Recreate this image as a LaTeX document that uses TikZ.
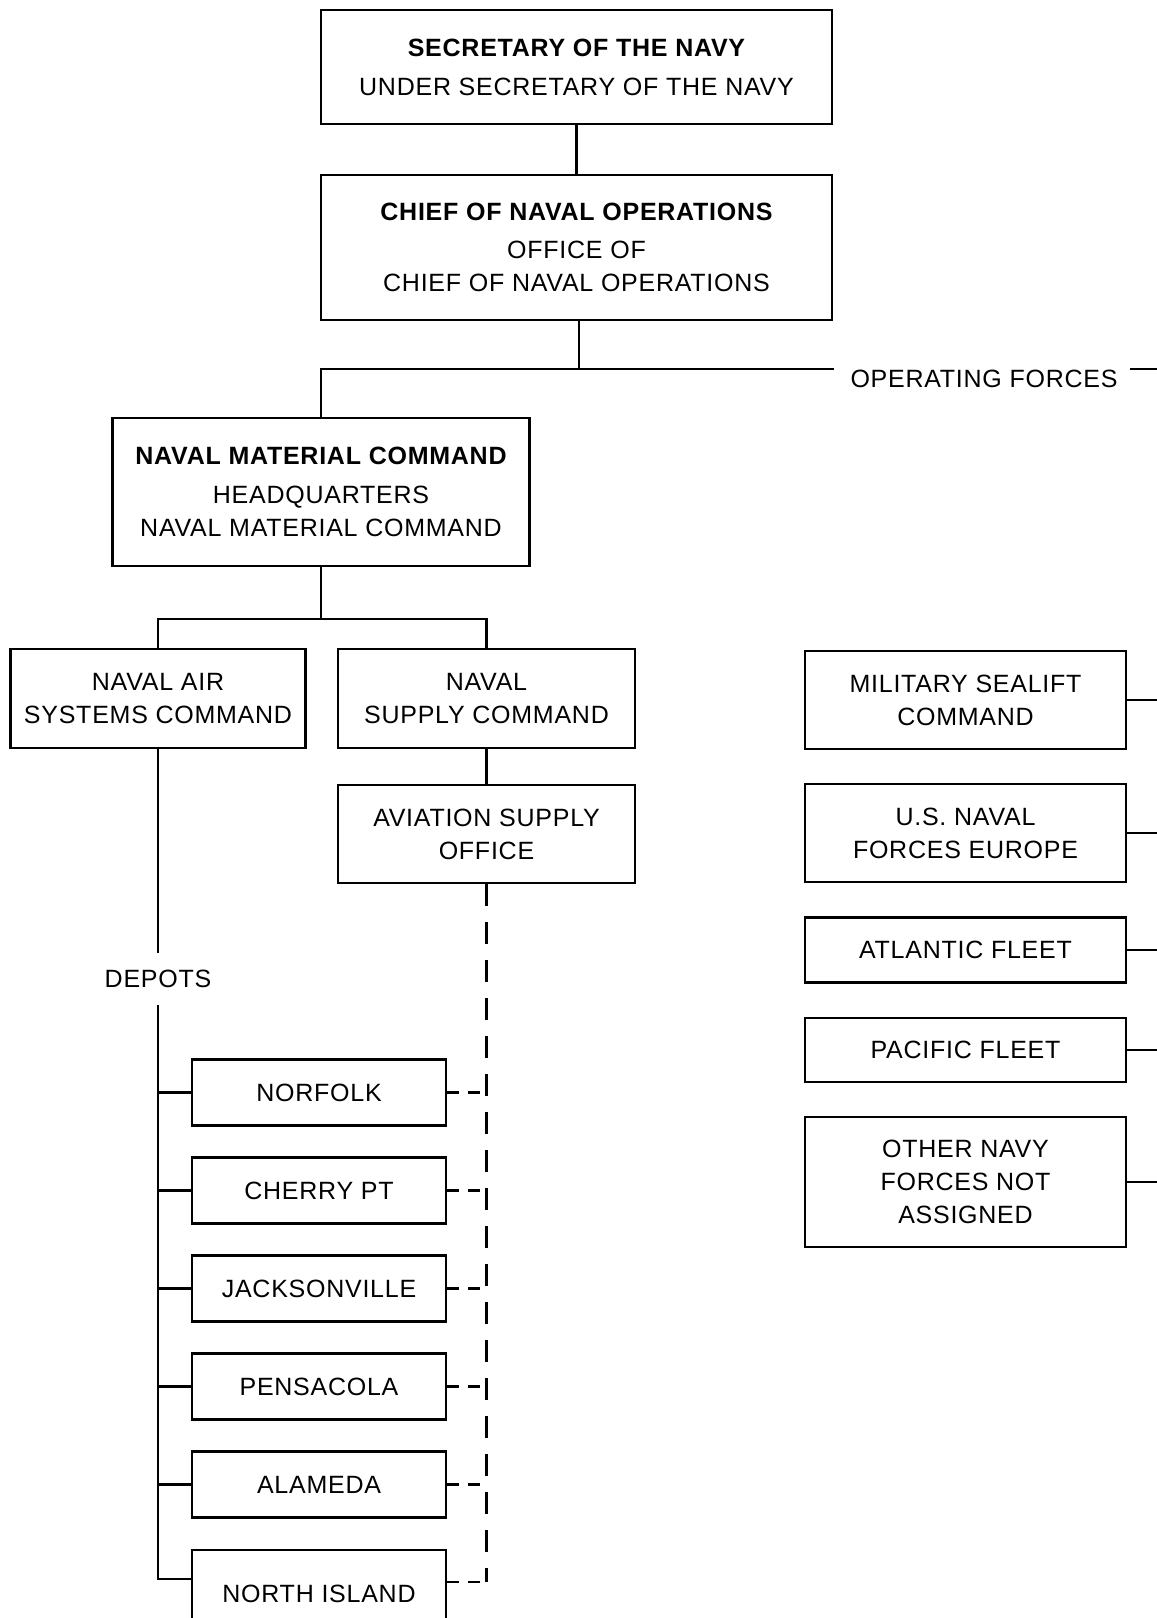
\documentclass[tikz,border=0pt]{standalone}
\usepackage{fontspec}
\setmainfont{Liberation Sans}[LetterSpace=3]
\usetikzlibrary{positioning}

\begin{document}
\begin{tikzpicture}[x=1pt,y=-1pt,line width=2.2pt,
   label/.style={inner sep=0pt,font=\fontsize{25}{33}\selectfont},
   box/.style={draw,label,align=center,line width=2.2pt},
   depot/.style={box,minimum width=254pt,minimum height=66pt,on grid},
   force/.style={box,minimum width=321pt},
   dashline/.style={dash pattern=on 22pt off 16pt},
   dashstub/.style={dash pattern=on 12pt off 9pt}]
   \useasboundingbox (0,0) rectangle (1157,1618);
   \node[box, minimum width=511pt, minimum height=114pt] (secnav) at (576.5,67)
      {{\bfseries SECRETARY OF THE NAVY}\\[6pt]UNDER SECRETARY OF THE NAVY};
   \node[box, minimum width=511pt, minimum height=145pt] (cno) at (576.5,247.5)
      {{\bfseries CHIEF OF NAVAL OPERATIONS}\\[5pt]OFFICE OF\\CHIEF OF NAVAL OPERATIONS};
   \node[box, minimum width=417pt, minimum height=148pt] (nmc) at (321,492)
      {{\bfseries NAVAL MATERIAL COMMAND}\\[6pt]HEADQUARTERS\\NAVAL MATERIAL COMMAND};
   \node[box, minimum width=295pt, minimum height=99pt] (navair) at (158,698.5) {NAVAL AIR\\SYSTEMS COMMAND};
   \node[box, minimum width=297pt, minimum height=99pt] (navsup) at (486.5,698.5) {NAVAL\\SUPPLY COMMAND};
   \node[box, minimum width=297pt, minimum height=98pt] (aso) [below=35pt of navsup] {AVIATION SUPPLY\\OFFICE};
   \node[label] (opforces) at (984,379) {OPERATING FORCES};
   \node[label, inner sep=16pt] (depots) at (158,979) {DEPOTS};
   \node[depot] (norfolk) at (319,1092.5) {NORFOLK};
   \node[depot] (cherrypt) [below=98pt of norfolk] {CHERRY PT};
   \node[depot] (jacksonville) [below=98pt of cherrypt] {JACKSONVILLE};
   \node[depot] (pensacola) [below=98pt of jacksonville] {PENSACOLA};
   \node[depot] (alameda) [below=98pt of pensacola] {ALAMEDA};
   \node[depot, minimum height=88pt] (northisland) at (319,1594) {NORTH ISLAND};
   \node[force, minimum height=98pt] (msc) at (965.5,700) {MILITARY SEALIFT\\COMMAND};
   \node[force, minimum height=98pt] (usnfe) [below=33pt of msc] {U.S. NAVAL\\FORCES EUROPE};
   \node[force, minimum height=65pt] (atlantic) [below=33pt of usnfe] {ATLANTIC FLEET};
   \node[force, minimum height=64pt] (pacific) [below=33pt of atlantic] {PACIFIC FLEET};
   \node[force, minimum height=130pt] (othernavy) [below=33pt of pacific] {OTHER NAVY\\FORCES NOT\\ASSIGNED};
   \coordinate (opsplit) at (579,369);
   \coordinate (opsleft) at (834,369);
   \coordinate (opsright) at (1130,369);
   \coordinate (pageedge) at (1157,369);
   \coordinate (matsplit) at (321,619);
   \coordinate (nislanddash) at ([yshift=12pt]northisland.east);

   \draw (secnav) -- (cno);
   \draw (cno.south -| opsplit) -- (opsplit);
   \draw (nmc.north) -- (nmc.north |- opsplit) -- (opsleft);
   \draw (opsright) -- (pageedge);
   \draw (nmc.south) -- (matsplit);
   \draw (navair.north) -- (navair.north |- matsplit) -- (navsup.north |- matsplit) -- (navsup.north);
   \draw (navsup) -- (aso);
   \draw (navair.south) -- (depots.north);
   \draw (depots.south) |- ([yshift=15pt]northisland.west);
   \draw[dashline] (aso.south) -- (aso.south |- nislanddash);
   \draw[dashstub] (nislanddash) -- (aso.south |- nislanddash);
   \foreach \d in {norfolk,cherrypt,jacksonville,pensacola,alameda} {
      \draw (depots.south |- \d.west) -- (\d.west);
      \draw[dashstub] (\d.east) -- (aso.south |- \d.east);
   }
   \foreach \f in {msc,usnfe,atlantic,pacific,othernavy}
      \draw (\f.east) -- (\f.east -| pageedge);
\end{tikzpicture}
\end{document}
